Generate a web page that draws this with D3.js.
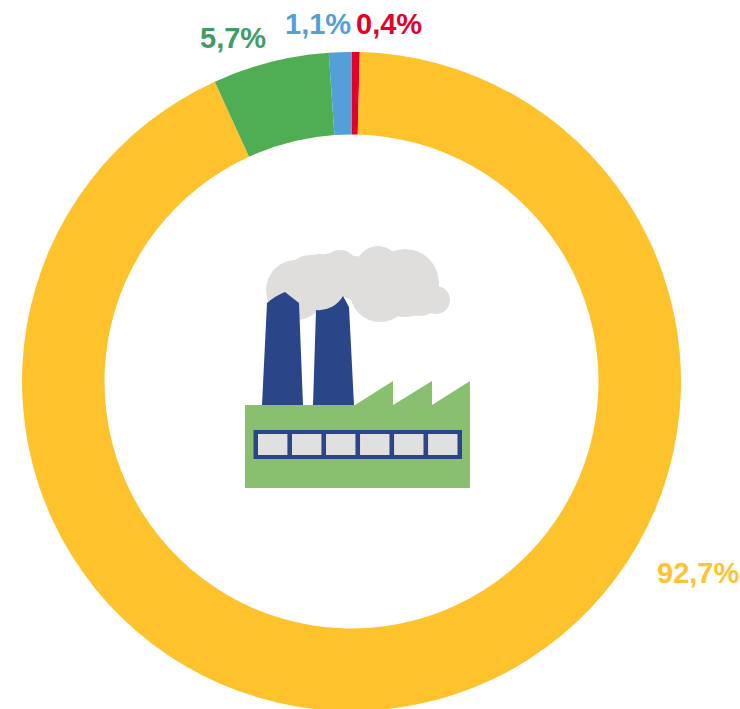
<!DOCTYPE html>
<html>
<head>
<meta charset="utf-8">
<script src="https://cdn.jsdelivr.net/npm/d3@7/dist/d3.min.js"></script>
<style>
  html, body { margin: 0; padding: 0; background: #fff; overflow: hidden; }
  svg { display: block; }
</style>
</head>
<body>
<div id="chart"></div>
<script>
// order runs clockwise from 12 o'clock
const categories = ["a", "b", "c", "d"];
const values = [0.4, 92.7, 5.7, 1.1];
const labels = ["0,4%", "92,7%", "5,7%", "1,1%"];

const sliceColors = ["#e4002b", "#fec22d", "#4fae53", "#539fd8"];
const labelColors = ["#e4002b", "#fec233", "#429a68", "#539fd8"];
const labelPos = [[356, 34], [657, 583], [200, 48], [285, 34]];

const width = 740, height = 709;
const cx = 351.5, cy = 381.5;

const svg = d3.select("#chart")
  .append("svg")
    .attr("width", width)
    .attr("height", height);

// the icon is a soft bitmap in the original
svg.append("defs")
  .append("filter")
    .attr("id", "soft")
  .append("feGaussianBlur")
    .attr("stdDeviation", 0.5);

const pie = d3.pie().sort(null).value(d => d);
const arc = d3.arc().innerRadius(247).outerRadius(329.5);

svg.append("g")
    .attr("transform", `translate(${cx},${cy})`)
  .selectAll("path")
  .data(pie(values))
  .join("path")
    .attr("fill", (d, i) => sliceColors[i])
    .attr("d", arc);

svg.selectAll("text.label")
  .data(labels)
  .join("text")
    .attr("class", "label")
    .attr("x", (d, i) => labelPos[i][0])
    .attr("y", (d, i) => labelPos[i][1])
    .attr("fill", (d, i) => labelColors[i])
    .style("font-family", "'Liberation Sans', Arial, sans-serif")
    .style("font-weight", "bold")
    .style("font-size", "29px")
    .text(d => d);

// factory icon in the middle of the ring
const icon = svg.append("g").attr("class", "icon").attr("filter", "url(#soft)");
const navy = "#2a4488", grey = "#dfdedd";

// smoke
const puffs = [
  [296, 290, 30], [310, 280, 25], [340, 268, 18], [378, 268, 22],
  [405, 283, 34], [436, 300, 14], [380, 292, 30], [320, 282, 28],
  [355, 278, 22], [420, 296, 20], [332, 275, 22]
];
icon.selectAll("circle")
  .data(puffs)
  .join("circle")
    .attr("cx", d => d[0])
    .attr("cy", d => d[1])
    .attr("r", d => d[2])
    .attr("fill", grey);

// chimneys
icon.append("path")
    .attr("fill", navy)
    .attr("d", "M262,405 L267,303 Q275,296 285,292 L299,303 L303,405 Z");
icon.append("path")
    .attr("fill", navy)
    .attr("d", "M313,405 L316,310 A28,28 0 0 0 343,296 L349,307 L354,405 Z");

// building
icon.append("path")
    .attr("fill", "#88c06f")
    .attr("d", "M245,405 L355,405 L393,381 L393,405 L432,381 L432,405 L470,381 L470,488 L245,488 Z");

icon.append("rect")
    .attr("x", 253.5).attr("y", 430)
    .attr("width", 208.5).attr("height", 29)
    .attr("fill", navy);

const panes = d3.range(6);
const paneX = d3.scaleBand().domain(panes).range([258, 457.5]).paddingInner(0.135);
icon.selectAll("rect.pane")
  .data(panes)
  .join("rect")
    .attr("class", "pane")
    .attr("x", d => paneX(d))
    .attr("y", 434)
    .attr("width", paneX.bandwidth())
    .attr("height", 21)
    .attr("fill", "#e0e0e0");
</script>
</body>
</html>
